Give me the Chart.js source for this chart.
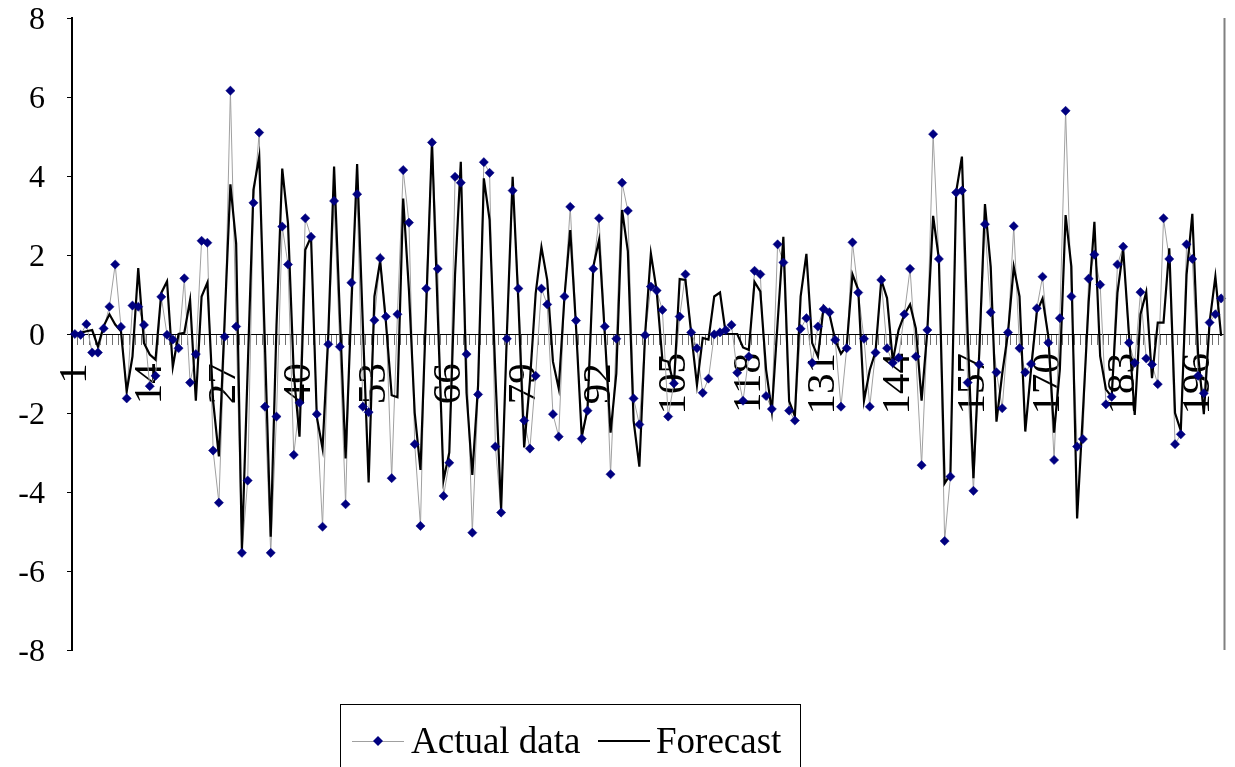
<!DOCTYPE html>
<html>
<head>
<meta charset="utf-8">
<script src="https://cdn.jsdelivr.net/npm/chart.js@4/dist/chart.umd.min.js"></script>
<style>
  html, body { margin: 0; padding: 0; background: #fff; }
  #wrap { width: 1235px; height: 767px; position: relative; }
</style>
</head>
<body>
<div id="wrap"><canvas id="chart" width="1235" height="767"></canvas></div>
<script>
// Observation index 1..200
const categories = Array.from({ length: 200 }, (_, i) => String(i + 1));

// Index labels shown along the axis
const tickLabels = ['1', '14', '27', '40', '53', '66', '79', '92', '105', '118', '131', '144', '157', '170', '183', '196'];

const seriesNames = ['Actual data', 'Forecast'];

const actualData = [
   0.00, -0.02,  0.25, -0.47, -0.47,  0.14,  0.69,  1.76,  0.18, -1.63,
   0.72,  0.69,  0.23, -1.32, -1.06,  0.94, -0.02, -0.14, -0.36,  1.41,
  -1.23, -0.51,  2.36,  2.31, -2.95, -4.27, -0.07,  6.16,  0.19, -5.54,
  -3.71,  3.32,  5.10, -1.84, -5.54, -2.09,  2.72,  1.76, -3.06, -1.74,
   2.93,  2.46, -2.03, -4.88, -0.26,  3.37, -0.32, -4.31,  1.30,  3.54,
  -1.84, -1.98,  0.35,  1.92,  0.44, -3.65,  0.50,  4.15,  2.82, -2.79,
  -4.86,  1.15,  4.85,  1.65, -4.10, -3.26,  3.98,  3.83, -0.51, -5.03,
  -1.53,  4.35,  4.08, -2.85, -4.52, -0.12,  3.63,  1.15, -2.19, -2.90,
  -1.06,  1.15,  0.75, -2.03, -2.60,  0.95,  3.22,  0.34, -2.65, -1.94,
   1.65,  2.93,  0.19, -3.55, -0.12,  3.83,  3.12, -1.63, -2.29, -0.03,
   1.20,  1.10,  0.61, -2.09, -1.25,  0.44,  1.51,  0.04, -0.36, -1.49,
  -1.13, -0.01,  0.04,  0.10,  0.23, -0.98, -1.69, -0.57,  1.60,  1.51,
  -1.57, -1.90,  2.27,  1.81, -1.94, -2.19,  0.13,  0.40, -0.73,  0.19,
   0.63,  0.55, -0.15, -1.84, -0.36,  2.32,  1.05, -0.12, -1.84, -0.47,
   1.37, -0.36, -0.73, -0.60,  0.50,  1.65, -0.57, -3.32,  0.10,  5.06,
   1.90, -5.24, -3.61,  3.58,  3.63, -1.23, -3.97, -0.77,  2.78,  0.55,
  -0.97, -1.88,  0.04,  2.73, -0.36, -0.97, -0.76,  0.65,  1.45, -0.22,
  -3.19,  0.40,  5.65,  0.95, -2.85, -2.66,  1.40,  2.01,  1.25, -1.78,
  -1.59,  1.76,  2.21, -0.22, -0.73,  1.06, -0.62, -0.77, -1.27,  2.93,
   1.90, -2.79, -2.54,  2.27,  1.90, -1.06, -1.50,  0.29,  0.50,  0.90
];

const forecastData = [
   0.00,  0.03,  0.07,  0.10, -0.32,  0.20,  0.50,  0.24,  0.07, -1.45,
  -0.57,  1.67, -0.23, -0.52, -0.65,  1.04,  1.33, -0.83,  0.00,  0.03,
   0.86, -1.69,  0.95,  1.30, -1.70, -3.10,  0.35,  3.79,  2.29, -5.47,
  -0.90,  3.65,  4.49, -0.30, -5.13,  0.20,  4.19,  2.80, -1.00, -2.60,
   2.13,  2.46, -2.10, -2.90,  0.00,  4.24,  0.50, -3.15,  0.70,  4.30,
   0.20, -3.76,  0.95,  1.85,  0.30, -1.55, -1.60,  3.43,  1.10, -2.00,
  -3.44,  0.70,  4.88,  0.50, -3.70, -3.00,  1.50,  4.36, -1.50, -3.57,
  -1.30,  3.94,  2.89, -1.00, -4.45,  0.00,  3.98,  0.80, -2.87, -1.20,
   1.03,  2.20,  1.37, -0.70, -1.38,  0.95,  2.63,  0.20, -2.60, -1.90,
   1.70,  2.38,  0.00, -2.50, -1.00,  3.14,  2.10, -2.20, -3.36,  0.00,
   2.04,  1.10, -0.66, -0.70, -1.29,  1.39,  1.37,  0.02, -1.29, -0.10,
  -0.14,  0.95,  1.05,  0.00,  0.00,  0.00, -0.34, -0.40,  1.32,  1.08,
  -0.90, -1.96,  0.28,  2.46, -1.70, -2.08,  0.95,  2.03, -0.23, -0.57,
   0.70,  0.50, -0.15, -0.50, -0.30,  1.51,  1.12, -1.69, -0.91, -0.45,
   1.37,  0.91, -0.69,  0.10,  0.49,  0.75,  0.14, -1.69,  0.10,  2.99,
   1.90, -3.78, -3.55,  3.60,  4.49,  0.00, -3.65, -0.50,  3.29,  1.70,
  -2.22, -1.00,  0.03,  1.70,  0.95, -2.47, -0.90,  0.55,  0.90, -0.06,
  -2.50, -0.90,  3.01,  1.71, -4.67, -2.00,  0.80,  2.84, -0.56, -1.40,
  -1.59,  1.04,  2.14,  0.00, -2.05,  0.50,  1.06, -1.12,  0.29,  0.29,
   2.17, -2.00, -2.45,  1.50,  3.04, -0.50, -2.03,  0.30,  1.45, -0.05
];

const yMin = -8, yMax = 8, yStep = 2;

const serif = '"Liberation Serif", "Times New Roman", serif';
const NAVY = '#000080';
const GREY_LINE = '#a0a0a0';

// Frame on the right edge of the plot and the boxed legend underneath
const framePlugin = {
  id: 'frameAndLegend',
  afterDraw(chart) {
    const { ctx, chartArea } = chart;
    ctx.save();
    ctx.strokeStyle = '#808080';
    ctx.lineWidth = 2;
    ctx.beginPath();
    ctx.moveTo(chartArea.right + 0.5, chartArea.top);
    ctx.lineTo(chartArea.right + 0.5, chartArea.bottom);
    ctx.stroke();

    // legend box
    const bx = 340.5, by = 704.5, bw = 460, bh = 80;
    ctx.strokeStyle = '#000';
    ctx.lineWidth = 1;
    ctx.strokeRect(bx, by, bw, bh);

    const cy = 741;
    // actual data symbol
    ctx.strokeStyle = GREY_LINE;
    ctx.lineWidth = 1;
    ctx.beginPath();
    ctx.moveTo(352, cy + 0.5);
    ctx.lineTo(404, cy + 0.5);
    ctx.stroke();
    ctx.fillStyle = NAVY;
    ctx.beginPath();
    ctx.moveTo(378, cy - 5);
    ctx.lineTo(383, cy);
    ctx.lineTo(378, cy + 5);
    ctx.lineTo(373, cy);
    ctx.closePath();
    ctx.fill();

    // forecast symbol
    ctx.strokeStyle = '#000';
    ctx.lineWidth = 2;
    ctx.beginPath();
    ctx.moveTo(598, cy);
    ctx.lineTo(650, cy);
    ctx.stroke();

    ctx.fillStyle = '#000';
    ctx.font = '37px ' + serif;
    ctx.textBaseline = 'alphabetic';
    ctx.textAlign = 'left';
    ctx.fillText(chart.data.datasets[0].label, 411, 753);
    ctx.fillText(chart.data.datasets[1].label, 656, 753);
    ctx.restore();
  }
};

new Chart(document.getElementById('chart'), {
  type: 'line',
  data: {
    labels: categories,
    datasets: [
      {
        label: seriesNames[0],
        data: actualData,
        borderColor: GREY_LINE,
        borderWidth: 1,
        pointRadius: 0,
        tension: 0,
        order: 3
      },
      {
        label: seriesNames[1],
        data: forecastData,
        borderColor: '#000',
        borderWidth: 2.2,
        pointRadius: 0,
        tension: 0,
        order: 2
      },
      {
        label: seriesNames[0] + ' points',
        data: actualData,
        showLine: false,
        pointStyle: 'rectRot',
        pointRadius: 4.6,
        pointBackgroundColor: NAVY,
        pointBorderColor: NAVY,
        pointBorderWidth: 0.5,
        order: 1
      }
    ]
  },
  options: {
    responsive: false,
    animation: false,
    devicePixelRatio: 1,
    layout: { padding: { top: 18, right: 11, bottom: 117, left: 0 } },
    plugins: {
      legend: { display: false },
      tooltip: { enabled: false }
    },
    scales: {
      x: {
        type: 'category',
        position: { y: 0 },
        offset: true,
        afterFit(scale) {
          scale.paddingLeft = 0;
          scale.paddingRight = 0;
          scale.paddingTop = 0;
          scale.paddingBottom = 0;
        },
        grid: {
          offset: true,
          drawOnChartArea: false,
          drawTicks: true,
          tickLength: 10,
          color: '#707070',
          lineWidth: 1
        },
        border: { display: true, color: '#000', width: 1 },
        ticks: {
          autoSkip: false,
          minRotation: 90,
          maxRotation: 90,
          padding: 9,
          color: '#000',
          font: { family: serif, size: 41 },
          callback(value, index) {
            const lab = categories[index];
            if (!tickLabels.includes(lab)) return '';
            // shorter labels sit centred on the same band as the three-digit ones
            return lab.length < 3 ? lab + ' ' : lab;
          }
        }
      },
      y: {
        min: yMin,
        max: yMax,
        afterFit(scale) {
          scale.width = 72;
          scale.paddingTop = 0;
          scale.paddingBottom = 0;
        },
        grid: {
          drawOnChartArea: false,
          drawTicks: true,
          tickLength: 5,
          color: '#000',
          lineWidth: 1
        },
        border: { display: true, color: '#000', width: 2 },
        ticks: {
          stepSize: yStep,
          padding: 22,
          labelOffset: 3,
          color: '#000',
          font: { family: serif, size: 32 }
        }
      }
    }
  },
  plugins: [framePlugin]
});
</script>
</body>
</html>
